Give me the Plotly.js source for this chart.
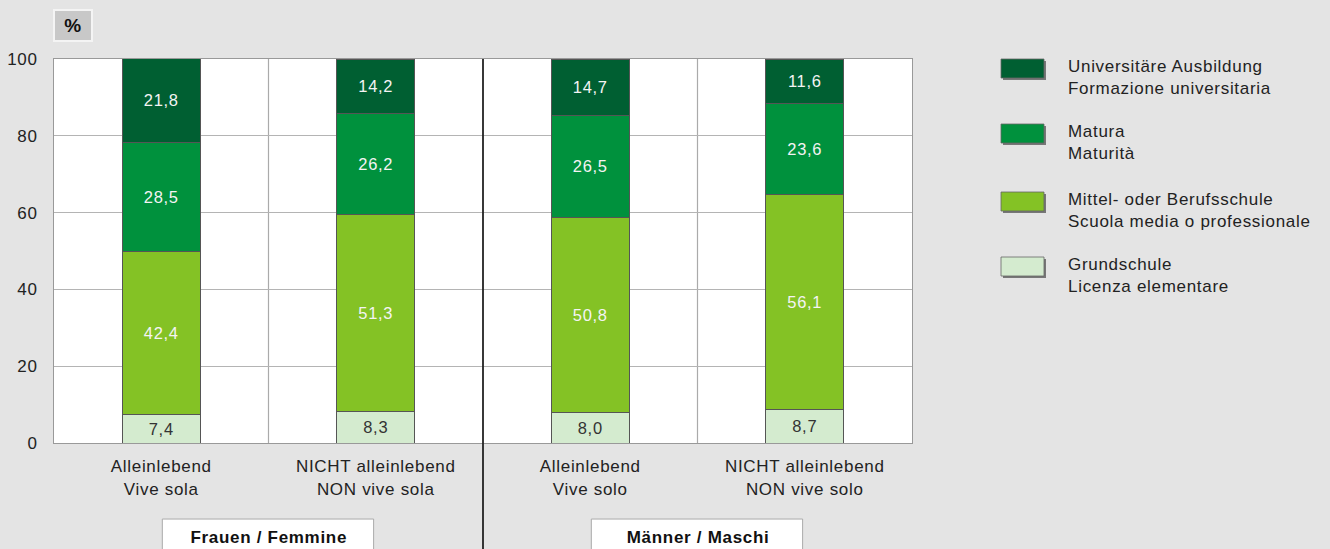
<!DOCTYPE html>
<html>
<head>
<meta charset="utf-8">
<script src="https://cdn.plot.ly/plotly-3.0.1.min.js"></script>
<style>
  html, body { margin: 0; padding: 0; background: #e4e4e4; }
  #chart { width: 1330px; height: 549px; }
  #chart text { letter-spacing: 0.7px; }
</style>
</head>
<body>
<div id="chart"></div>
<script>
// ---- data ----
const categories = [
  "Alleinlebend<br>Vive sola",
  "NICHT alleinlebend<br>NON vive sola",
  "Alleinlebend<br>Vive solo",
  "NICHT alleinlebend<br>NON vive solo"
];
const groups = ["Frauen / Femmine", "Männer / Maschi"];
const grundschule = [7.4, 8.3, 8.0, 8.7];
const mittelschule = [42.4, 51.3, 50.8, 56.1];
const matura = [28.5, 26.2, 26.5, 23.6];
const universitaet = [21.8, 14.2, 14.7, 11.6];
const seriesNames = [
  "Grundschule<br>Licenza elementare",
  "Mittel- oder Berufsschule<br>Scuola media o professionale",
  "Matura<br>Maturità",
  "Universitäre Ausbildung<br>Formazione universitaria"
];
const yTicks = [0, 20, 40, 60, 80, 100];

// ---- styles ----
const colors = ["#d4ebcf", "#84c225", "#00913d", "#005f32"];
const textColors = ["#333333", "#f4f4f4", "#f4f4f4", "#f4f4f4"];
const FONT = "Liberation Sans, Arial, sans-serif";

const xIdx = categories.map((_, i) => i);
const fmt = v => v.toFixed(1).replace(".", ",");
const seriesValues = [grundschule, mittelschule, matura, universitaet];

const traces = seriesValues.map((vals, s) => ({
  type: "bar",
  x: xIdx,
  y: vals,
  name: seriesNames[s],
  width: 0.364,
  marker: { color: colors[s], line: { color: "#555555", width: 1 } },
  text: vals.map(fmt),
  textposition: "inside",
  insidetextanchor: "middle",
  textangle: 0,
  textfont: { family: FONT, size: 16.5, color: textColors[s] },
  hoverinfo: "skip",
  showlegend: false
}));

const shapes = [];
const annotations = [];

// category separators
[0.5, 2.5].forEach(v => shapes.push({
  type: "line", xref: "x", yref: "paper", x0: v, x1: v, y0: 0, y1: 1,
  line: { color: "#aaaaaa", width: 1.2 }, layer: "below"
}));
// black group separator
shapes.push({
  type: "line", xref: "x", yref: "paper", x0: 1.5, x1: 1.5, y0: -0.3, y1: 1,
  line: { color: "#222222", width: 1.8 }
});

// group boxes
groups.forEach((g, i) => {
  const x0 = i * 2, x1 = i * 2 + 1;
  shapes.push({
    type: "rect", xref: "x", yref: "paper", x0: x0 + 0.005, x1: x1 - 0.01,
    y0: -0.198, y1: -0.32, fillcolor: "#ffffff",
    line: { color: "#aaaaaa", width: 1 }
  });
  annotations.push({
    xref: "x", yref: "paper", x: (x0 + x1) / 2, y: -0.245, yanchor: "middle",
    text: "<b>" + g + "</b>", showarrow: false,
    font: { family: FONT, size: 17, color: "#111111" }
  });
});

// "%" box
annotations.push({
  xref: "paper", yref: "paper", x: 0.022, y: 1.087, xanchor: "center", yanchor: "middle",
  text: "<b>%</b>", showarrow: false, bgcolor: "#c8c8c8", bordercolor: "#f4f4f4",
  borderwidth: 2, borderpad: 4, width: 28,
  font: { family: FONT, size: 19, color: "#111111" }
});

// custom legend (top = Universität)
const legendOrder = [3, 2, 1, 0];
const swTop = [59, 124, 192, 257];
const plotTop = 59, plotH = 384, plotL = 54, plotW = 858;
const px2x = px => (px - plotL) / plotW;
const py2y = py => (plotTop + plotH - py) / plotH;
legendOrder.forEach((s, k) => {
  const t = swTop[k];
  shapes.push({
    type: "rect", xref: "paper", yref: "paper",
    x0: px2x(1003), x1: px2x(1046), y0: py2y(t + 2), y1: py2y(t + 21),
    fillcolor: "#777777", line: { width: 0 }
  });
  shapes.push({
    type: "rect", xref: "paper", yref: "paper",
    x0: px2x(1001), x1: px2x(1044), y0: py2y(t), y1: py2y(t + 19),
    fillcolor: colors[s], line: { color: "#666666", width: 0.8 }
  });
  annotations.push({
    xref: "paper", yref: "paper", x: px2x(1066), y: py2y(t - 4),
    xanchor: "left", yanchor: "top", align: "left",
    text: seriesNames[s], showarrow: false,
    font: { family: FONT, size: 17, color: "#222222" }
  });
});

const layout = {
  width: 1330, height: 549,
  margin: { l: 54, r: 418, t: 59, b: 106 },
  paper_bgcolor: "#e4e4e4",
  plot_bgcolor: "#ffffff",
  barmode: "stack",
  showlegend: false,
  font: { family: FONT, size: 17, color: "#222222" },
  xaxis: {
    range: [-0.5, 3.5],
    tickvals: xIdx, ticktext: categories,
    showgrid: false, zeroline: false,
    showline: true, mirror: true, linecolor: "#999999", linewidth: 1,
    ticks: "", ticklabelstandoff: 8,
    tickfont: { family: FONT, size: 17, color: "#222222" },
    fixedrange: true
  },
  yaxis: {
    range: [0, 100],
    tickvals: yTicks,
    showgrid: true, gridcolor: "#b4b4b4", gridwidth: 1,
    zeroline: false,
    showline: true, mirror: true, linecolor: "#999999", linewidth: 1,
    ticks: "", ticklabelstandoff: 12,
    tickfont: { family: FONT, size: 17, color: "#222222" },
    fixedrange: true
  },
  shapes: shapes,
  annotations: annotations
};

Plotly.newPlot("chart", traces, layout, { displayModeBar: false, staticPlot: true });
</script>
</body>
</html>
